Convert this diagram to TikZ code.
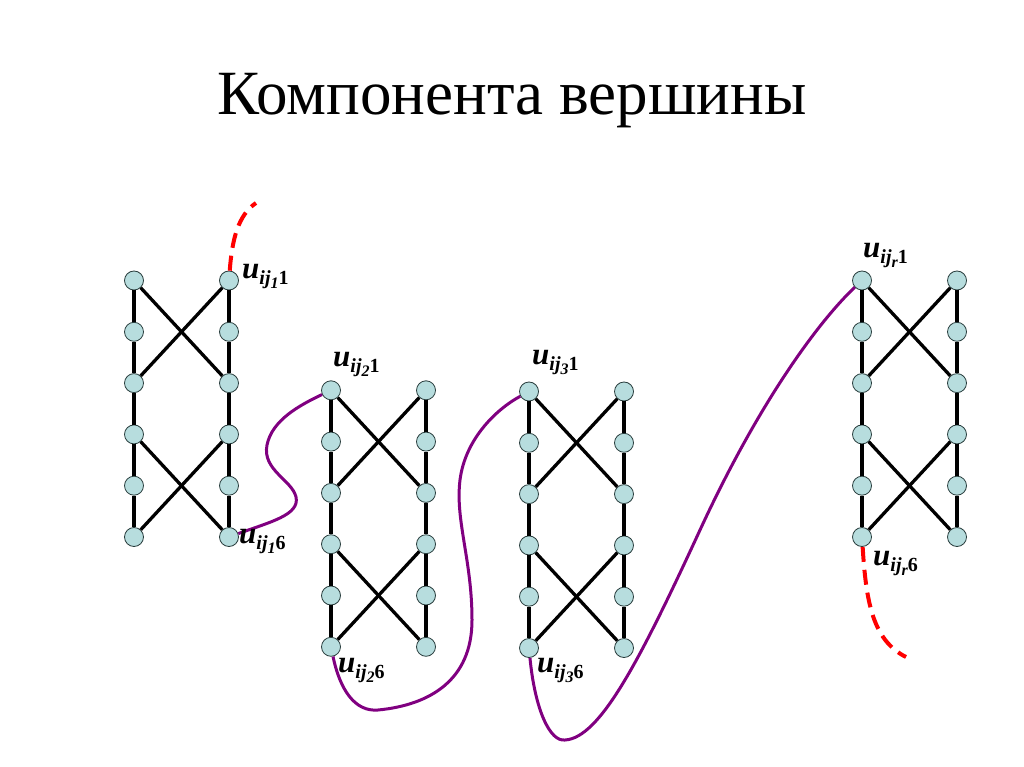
\documentclass[tikz,border=0pt]{standalone}
\usepackage{fontspec}
\setmainfont{Liberation Serif}
\definecolor{vfill}{RGB}{183,221,222}
\definecolor{vborder}{RGB}{40,60,60}
\definecolor{pathpurple}{RGB}{128,0,128}
\newcommand{\ulab}[2]{{\fontsize{31}{31}\selectfont\bfseries\itshape u}\raisebox{-6pt}{\fontsize{20}{20}\selectfont\bfseries\itshape ij\raisebox{-4pt}{\fontsize{16}{16}\selectfont\bfseries #1}\upshape #2}}
\begin{document}
\begin{tikzpicture}[x=1pt,y=-1pt,
  vtx/.style={circle,draw=vborder,line width=0.8pt,fill=vfill,minimum size=19pt,inner sep=0pt},
  edge/.style={line width=3.3pt,black},
  chain/.style={line width=3pt,pathpurple},
  open/.style={line width=4pt,red,dash pattern=on 15pt off 8pt},
  lab/.style={anchor=base west,inner sep=0pt}]
\useasboundingbox (0,0) rectangle (1024,767);
\node[anchor=base,inner sep=0pt,font=\fontsize{63}{63}\selectfont] (title) at (512,115) {Компонента вершины};
\foreach \g/\x/\y in {a/134/280.5, b/331/390.3, c/529/391.5, d/862/280.5} {
  \foreach \k in {1,...,6} {
    \node[vtx] (\g L\k) at (\x, {\y+51.3*(\k-1)}) {};
    \node[vtx] (\g R\k) at ({\x+95}, {\y+51.3*(\k-1)}) {};
  }
  \foreach \k [evaluate=\k as \n using int(\k+1)] in {1,...,5} {
    \draw[edge] (\g L\k) -- (\g L\n);
    \draw[edge] (\g R\k) -- (\g R\n);
  }
  \draw[edge] (\g L1) -- (\g R3);
  \draw[edge] (\g R1) -- (\g L3);
  \draw[edge] (\g L4) -- (\g R6);
  \draw[edge] (\g R4) -- (\g L6);
}
% chain between gadgets
\draw[chain] (aR6) .. controls (270,522) and (300,515) .. (296,497)
  .. controls (292,480) and (262,470) .. (267,445)
  .. controls (272,420) and (300,405) .. (bL1);
\draw[chain] (bL6) .. controls (340,690) and (355,712) .. (378,710)
  .. controls (430,705) and (472,680) .. (472,620)
  .. controls (472,560) and (455,520) .. (460,480)
  .. controls (465,440) and (495,410) .. (cL1);
\draw[chain] (cL6) .. controls (535,710) and (550,742) .. (565,740)
  .. controls (600,738) and (640,660) .. (700,530)
  .. controls (760,400) and (820,320) .. (dL1);
% open ends
\coordinate (topend) at (256,203);
\coordinate (botend) at (906,657);
\draw[open] (aR1) .. controls (232,240) and (238,215) .. (topend);
\draw[open] (dL6) .. controls (866,600) and (872,640) .. (botend);
% labels
\node[lab] (la1) at (242,278) {\ulab{1}{1}};
\node[lab] (la6) at (239,543) {\ulab{1}{6}};
\node[lab] (lb1) at (333,366) {\ulab{2}{1}};
\node[lab] (lb6) at (338,672) {\ulab{2}{6}};
\node[lab] (lc1) at (532,364) {\ulab{3}{1}};
\node[lab] (lc6) at (537,672) {\ulab{3}{6}};
\node[lab] (ld1) at (863,257) {\ulab{\itshape r}{1}};
\node[lab] (ld6) at (873,565) {\ulab{\itshape r}{6}};
\end{tikzpicture}
\end{document}
